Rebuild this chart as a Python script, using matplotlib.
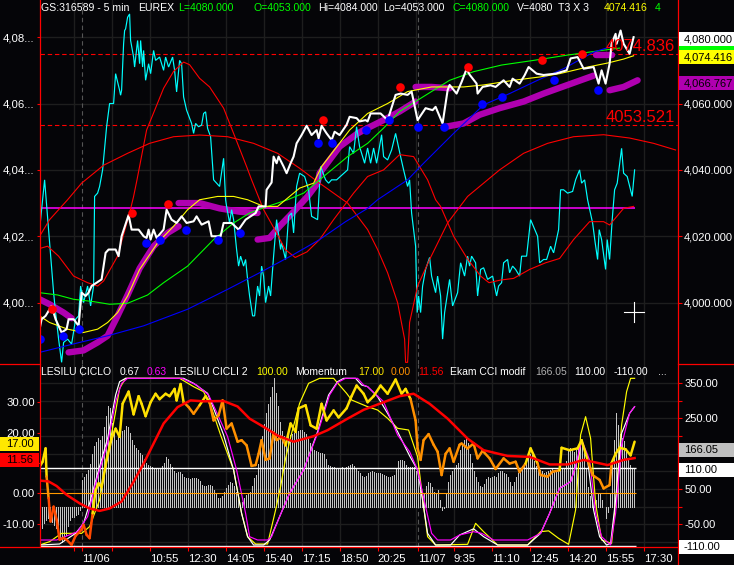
import numpy as np
import matplotlib
matplotlib.use("Agg")
import matplotlib.pyplot as plt
from matplotlib.collections import LineCollection
from matplotlib.lines import Line2D
from matplotlib.patches import Rectangle

W, H = 734, 565
BG = "#050508"
GRID = "#1e1e1e"
PURPLE = "#B000B0"
plt.rcParams["font.family"] = ["Liberation Sans", "DejaVu Sans"]

# ---- main panel (bar index, price) ----
cyan_x = [0,2.5,7,8,9.5,11,12,14,16,18,19.5,20.5,22,24,25.5,27,27.5,29,30,31.5,33.5,35,37,38,40,40.5,41,42,42.5,43,44,45,45.5,47,47.5,49,50,50.5,51.5,52,53,54.5,55.5,57,58,60,62,63,64.5,66.5,67.5,68.5,70,71,72,73.5,76,77,78,79.5,81,82,83,84,85.5,87,90,92,93,93.5,95,96,97,98.5,99.5,100.5,102,103,104,105,106.5,107.5,109,110,111,112,113,114.5,115.5,117,118.5,120.5,121,123,124.5,126,127,128.5,130,132.5,134.5,136,139,140.5,143,144.5,146,148.5,154,155,157,158.5,160,162.5,164,165.5,167,168.5,171,172,174,176,178,180.5,182,184,185,186,188,188.8,189.5,190.5,191.5,193,195,196,198,199,200.5,201.5,202.5,205,206.5,209,210.5,212.5,214,215,216,218,219,220.5,222,224,226.5,228.5,229.5,231,232,234,235,236.5,238,240,241,243.5,245.5,249,250,252,253.5,255.5,257,259.5,260.5,262,264,266.5,268,270,271,272.5,274,276.5,277.8,279,279.8,281,283,283.8,285,286.3,287.5,288.8,291,292,293.8,296.3,297.5]
cyan_y = [4022,4037,4003,3997,3989,3982,3988,3989,3987.5,3995,3996,4005,4000,4005,3999,4005,4032,4033,4035,4040,4053,4060,4060,4069,4064,4062.5,4064,4078,4082,4082.5,4086,4087,4079,4074,4071,4079,4072,4079,4071,4076,4067,4072,4069,4076,4073,4074,4070,4074,4071,4074,4070,4063.5,4073,4072,4062,4058,4054,4051,4054,4053,4053.5,4057,4057.5,4052.5,4050,4037,4035,4043.5,4031,4029,4024,4028,4025,4016,4011,4014,4011,4013,4007,4002,3996,3996,4005,4002,4011,4008,4000,4005,4002,4014,4025,4016,4018,4013,4026,4027,4021,4035,4039,4038,4034,4026,4025,4041,4037,4036,4037,4037,4040,4047,4045,4053,4047,4042,4046.6,4042,4046.6,4042,4050.6,4044,4043,4046,4051,4044,4040,4035,4037,4027,4017,3997,4002,3997,4005,4010,4013.6,4008,4003,4008,4002,3989,3997,4007,3999,4003,4012,4008,4014,4011,4014,4012,4002,4010,4010.5,4007,4008,4002,4005,4006,4012,4013,4009,4011,4010,4008,4014,4014,4025,4020,4012,4013,4013,4017,4015,4022,4034,4034,4033,4033.5,4037,4040,4036,4037,4031,4024,4018,4013,4022,4019,4010,4019,4013,4025,4034,4036,4046.5,4039,4038,4032,4040]

close_x = [0,1,3,6,8,11,13.5,14.5,17,19.5,21,23,24.5,26,28.5,31,33,34.5,38,39.5,41,44.5,46,49.5,52,53.5,54.5,55.5,57,58.5,62,63.5,66,68.5,71,73.5,77,78.5,81,84.5,86,90.5,92,96,99.5,103,108,109.5,113,113.5,116,117,118.5,119.5,122,123.5,125.5,127,128.5,131,133.5,136,138.5,139.5,141,143.5,146,147.5,150,153.5,155,158.5,160,163,164,165.5,170.5,174,178,180.5,184,186,189,193,196.5,198,201.5,204,205,208.5,211,213.5,215,218.5,219,221.5,225.5,228,232,235,236.5,240,242.5,244.5,248.5,252,258,263.5,265.5,269,272,277,279.5,281,283,285,286,288,288.5,290.5,292,295,297]
close_y = [3992,3995,3996,3999,3995,3991,3992,3995,3995,3993,4003,4002,4003,4005,4006,4007,4015,4016,4016,4014,4020,4026.4,4022,4022,4020,4019.5,4022,4019,4022,4019.5,4022,4028,4025,4024,4026,4024,4024.5,4026,4023.5,4024.5,4020,4020,4024,4024,4022,4025,4027,4029,4029,4034,4036.2,4044,4042,4044,4041,4039,4042,4044,4048,4050.5,4053.3,4050.5,4052,4049.5,4053.3,4051,4049,4051.5,4050.5,4053.6,4056,4055.6,4054.6,4055,4054.6,4057,4057,4055,4062.6,4063,4062.6,4063.6,4055,4058.6,4058,4059,4054,4064,4065.6,4063,4066.5,4070.4,4068.7,4066,4063,4065,4065.5,4065,4067,4065,4067.5,4066,4068.5,4071,4069,4068.6,4069,4070,4073.6,4074,4070.5,4071,4066,4070,4066,4072,4078,4081,4078,4082,4078,4075,4080]

yellow_x = [0,5,14,22,29,34,39,44,50,59,67,74,80,89,97,104,112,119,125,130,137,141,155,164,174,184,196,204,212,222,237,250,260,274,284,292,297]
yellow_y = [3996,3994,3992,3991,3992,3994,3997,4002,4010,4018,4023,4028,4031,4032,4032,4031,4029,4029,4032,4034.5,4036,4041,4052,4057,4060,4063.6,4065,4065,4065,4065.6,4067,4068,4069,4071,4072.2,4073.4,4074.4]

green_x = [0,9,17,27,35,44,54,62,74,87,97,105,114,124,132,141,154,164,172,180,189,197,205,217,231,247,264,281,290]
green_y = [4003,4002.3,4001,4000.3,3999.5,3999.8,4002.3,4006,4011,4019,4024,4027,4029,4031,4033,4037.5,4044,4048,4052.6,4057.6,4061,4064,4067,4069.6,4071.6,4073,4074.6,4076,4076.7]

blue_x = [0,20,34,52,74,94,110,127,140,153,164,169,184,192,207,222,235,249,262,277,285]
blue_y = [3985,3988,3990,3993,3998,4004,4009,4014.5,4019,4024.4,4028.4,4031,4037,4042,4051,4059.6,4063,4067,4070.5,4075.5,4077]

arch_x = [0,5,14,21,32,44,55,67,80,94,107,119,130,140,147,154,164,169,174,179,182.5,183,184,185,189,195,204,214,224,230,242,254,267,282,295,307,318]
arch_y = [4020,4025,4031,4036,4041.4,4045,4048,4050,4050.5,4050,4048,4045,4040.5,4036,4033,4030,4022,4016,4009,4000,3989,3982,3982,3994,4005,4013,4024,4032,4037,4040,4045,4048,4050,4050.6,4049.6,4048,4046]

hump_x = [0,4,9.5,17,24,29,32,39,45,47,48.7,53.5,62,67,72,75,80,85,92,97,103.5,106,112,118.5,122.8,127.8,133.7,140,147,157,164,172,180,187,191,194,198,200.5,207,213.8,220.5,224.7,230.5,237,245,253,260,267,275,282,285,292,297]
hump_y = [4016.3,4017,4014,4008,4006,4005,4006.5,4014,4027,4032,4037,4052,4064.6,4069.7,4072.5,4071.7,4067.6,4065,4058.6,4051,4041,4037,4028,4021,4016,4013.6,4015.3,4019,4025,4033,4038,4040,4044.6,4044,4040,4037,4031,4029,4020,4013.3,4008,4006,4006.8,4007.3,4010,4012,4013.3,4019,4024.4,4024.4,4023.4,4028.4,4029]

purple_x = [[0,5,12,16],
            [14.5,22,29,34,39,44,50,57,64,69.5],
            [69.5,80,90,100,109],
            [109,115,120,127,134,139,140,150,159,164,172,180,188],
            [188,196,205],
            [203,212,220,230,242,252,264,277],
            [278,286],
            [285,292,299]]
purple_y = [[4001,3999.5,3997,3995.3],
            [3985,3985.6,3988,3990,3996,4002.3,4010.3,4017,4021,4023],
            [4030,4030,4028.4,4027.4,4027],
            [4019,4019.5,4023,4027.4,4032,4036,4039,4047,4051,4052.6,4055,4057.6,4060.6],
            [4065,4065,4064.6],
            [4053,4054,4056.6,4058.6,4060.6,4063,4065.6,4068.4],
            [4074.7,4074.7],
            [4064,4065,4067]]

peak_x = [6,46,64,141.5,180,214,251,271]
peak_y = [3998,4026.9,4029.7,4055,4065,4071,4073,4075]
trough_x = [0,11.5,19.5,53,60,73,89,100,139,146,163,174.5,189,202,221,231,257,279]
trough_y = [3989,3990,3992,4018,4019,4022,4019,4021,4048,4048,4052,4055,4053,4053,4060,4062,4067,4064]

level_hi, level_lo, level_mid = 4074.836, 4053.521, 4028.4
price_ticks = [4000,4020,4040,4060,4080]
price_left_labels = ["4,00...", "4,02...", "4,04...", "4,06...", "4,08..."]

# ---- lower panel ----
cci = [-71,-60,-45,-38,-32,-36,-42,-52,-60,-68,
       -85,-100,-95,-80,-55,-38,-30,-28,-24,-20,
       -10,76,85,92,105,120,150,172,182,194,
       190,200,225,256,284,280,237,215,190,200,
       208,213,218,227,225,208,190,175,165,160,
       152,147,135,123,118,115,113,110,110,108,
       109,115,125,140,135,122,112,100,95,97,
       98,92,85,80,80,78,80,80,80,78,
       72,62,60,60,61,62,58,48,38,26,
       24,30,42,52,62,70,68,58,42,22,
       5,12,25,33,38,43,60,80,90,120,
       165,200,235,265,290,310,340,365,322,285,
       240,215,200,198,200,203,206,208,210,213,
       216,216,212,205,195,180,165,160,158,155,
       152,151,150,135,118,114,112,112,110,110,
       110,112,110,112,115,118,121,115,108,100,
       95,88,85,88,95,98,100,98,96,95,
       94,92,90,86,85,85,86,90,110,130,
       133,133,128,118,112,112,113,112,100,78,
       48,30,40,60,71,68,55,42,40,47,
       20,-9,-5,40,70,90,102,110,118,125,
       160,175,190,194,180,150,125,100,85,70,
       58,57,65,78,85,82,85,88,85,95,
       100,100,95,92,85,70,60,70,85,95,
       105,115,125,130,145,150,145,130,115,108,
       105,100,95,98,102,105,108,105,105,108,
       108,106,110,130,160,165,160,155,160,170,
       175,180,165,110,55,30,12,10,20,38,
       38,20,0,-33,-15,40,130,190,265,230,
       205,195,185,160,135,118,110,110]

osc_w_x = [0,10,18,22,25,29,34,38,40,43,72,77,84,87,92,97,101,104,107,112,115,120,125,132,139,144.5,149,152,158,161,164,169,174,179,185,189,192,194,198,205.5,210,217,222,229,244,250.5,255,260,265.5,269,271,274,277,280,283.5,285.5,288,291,295,297.5]
osc_w_y = [0,0.6,7,13,25,43,64,90,98,100,100,97,91,82,66,45,19,5,0,0,3,17,31,45,68,90,98,100,100,96,95,89,79,68,53.5,45,23,7,0,0,6,9.7,5,0,0,7,19,34,38,51,63,51,21,5,0,1,27,67,79,83]
osc_m_x = [0,8.5,19,24,28,34,38,41,44,71,78.5,84.5,88,94,98.5,103,105,109,114,116,120,125,132,139,145,149,153,159,162,164,172,179,185,189,193,196,199,205.5,210,217,221,227,244,250.5,255,260,265.5,268,271,275,278,281,285.5,288,291,295,297.5]
osc_m_y = [3,3,8,17,37,61,86,97,100,100,96,90,81,65,45,19,5,3,3,5,17,31,45,67,90,97.5,100,100,96,95,86,66,56,45,23,7,3,3,6,8,7,3,3,7,19,34,38,47,63,51,19,5,0,19,60,79,83]
osc_y_x = [0,5,11,21,25,30,34,38,40,43,70,77,82,86,90.5,97,101,104,108,114,118,120.5,123,126,130,134.5,140,147,153.5,156,164,169,174,179,184.5,189,192,194,198,214,218,222,229,244,250.5,254.5,259.5,264.5,268,270.5,273,275.5,278,281,286,288,291,293.5,295.5,297.5]
osc_y_y = [0,2,7,7,11,27,53.5,80,94,100,100,95,92,82,66,45,19,5,0.6,0.6,21,35,52,67,85,97,100,100,91,87,83,81,76,70,69,53,23,5,0,0.4,13,8,0,0,8,8.5,4,0.4,21,66,77,64,25,3,1,25,72,92,100,100]

mom_x = [0,1.5,3,3.5,4.5,5.5,7,8.5,10,12,13.5,16,18,21,22,23.5,25,26.5,28,29.5,31,33.5,36,38,40,41.5,44.5,47,49.5,51,53,55.5,58,60,63,65,67.5,68.5,70.5,72,74.5,77,80,83,85,87,89.5,91.5,93.5,96,99,101,103.5,106,108,109.5,111,113,115,117,118.5,121,123,125.5,128,129.5,133,135.5,138.5,141,143.5,147,149.5,153.5,156,158.5,162,164,167,170.5,174,178,181,183,185.5,188,189,190.5,192,194.5,197,199,201,203,205,207,210,211,214,217,219,221.5,225,228,232,235,238,240,243,245.5,249,250.5,254,256.5,260,261,265,269,271,274,276.5,280,282,285,286,288,290,293,295.5,297.5]
mom_y = [8.7,10.4,14.8,5.5,-1.6,-9.3,-4.4,-8.7,-15.3,-14.7,-15.3,-17,-14,-12,-10.4,-13.7,-14.8,-6.6,1,3.3,2,11,18,21.3,18.6,29.5,33.5,26,32,29.5,25.4,30,32.8,31,32.8,32,34.4,30.6,36,30,28.4,26.2,29,32,30,24,25.7,30.6,21.3,23,17,17.5,15.8,9,9.3,13,17.5,11,11.5,20,17.5,18.6,15.8,23,20.2,28,29,22.4,21.3,29.5,24,27.3,25,28,32,35.5,32.8,30,32,35.5,32.8,37.5,32.8,34.4,31,24,14.8,11,17.5,19.5,16,13.7,6,13,14.8,10.4,16,16.4,14.8,16.4,11.5,14,11.5,8,11.5,9.8,10.4,7,9.8,14.8,9.8,6,5.5,7.1,7.6,15,14.2,14.8,17.5,11,6,4.4,1.6,2.7,10,13,15,14.5,12.5,17]

sig_x = [0,4.5,8.5,13.5,20,25,30,35,41,47,52,57,62,69,75.5,82,92,99,105,112,119,127,137,144,154,162,164,172,180,187,195,204,214,222,234,245,255,264,272,284,292,297.5]
sig_y = [4.2,3.9,2.4,-0.5,-3.3,-5,-5.8,-5,-2.7,3.8,9.8,16.4,23,28.4,30.6,30.3,30.4,28.6,24.6,21.9,19,17,18.8,20.8,24.6,27.5,28,30,32,32.8,29.5,24.6,18,14.2,12.3,12,9.5,9.5,11,9.3,11,11.6]

cci_hi, cci_lo = 110, -110
cci_ticks = [350,300,250,200,150,100,50,0,-50,-100]
cci_labels = {350:"350.00",250:"250.00",50:"50.00",-50:"-50.00"}
mom_ticks = [30,20,10,0,-10]
mom_labels = {30:"30.00",20:"20.00",0:"0.00",-10:"-10.00"}

grid_bars = [17,36,55,74,93,112,131,150,169,188,207,226,245,264,283,302]
minor_bars = [17,36]
day_bars = [21,189]
time_bars = [21,55,74,93,112,131,150,169,189,207,226,245,264,283,302]
time_labels = ["11/06","10:55","12:30","14:05","15:40","17:15","18:50","20:25","11/07","9:35","11:10","12:45","14:20","15:55","17:30"]

X0, X1, MID, BOT = 39.6, 678.0, 364.0, 547.0
XMAX = (X1 - X0) / 2

def fx(p): return p / W
def fy(p): return 1 - p / H

fig = plt.figure(figsize=(W / 100, H / 100), dpi=100, facecolor=BG)

def make_axes(top, bot, ylim, **kw):
    a = fig.add_axes([fx(X0), fy(bot), fx(X1 - X0), (bot - top) / H], **kw)
    a.set_xlim(0, XMAX)
    a.set_ylim(*ylim)
    for s in a.spines.values():
        s.set_visible(False)
    a.set_xticks([])
    a.set_yticks([])
    return a

# ---------- main price panel ----------
ax = make_axes(0, MID, (3981.5, 4091.2), facecolor=BG)
for b in grid_bars:
    ax.axvline(b, color=GRID, lw=1.0, zorder=0)
for b in day_bars:
    ax.axvline(b, color="#555555", lw=0.8, ls=(0, (4, 3)), zorder=0.5)
for p in price_ticks:
    ax.axhline(p, color=GRID, lw=1.0, zorder=0)

ax.hlines([level_hi, level_lo], 0, XMAX, color="#FF0000", lw=0.8, ls=(0, (4, 2.5)), zorder=1)
ax.hlines(level_mid, 0, 297.5, color="#FF00FF", lw=1.1, zorder=1)

for xs, ys in zip(purple_x, purple_y):
    ax.plot(xs, ys, color=PURPLE, lw=4.6, solid_capstyle="round", solid_joinstyle="round", zorder=2)
ax.plot(cyan_x, cyan_y, color="#00FFFF", lw=0.85, zorder=3, solid_joinstyle="miter")
ax.plot(arch_x, arch_y, color="#FF0000", lw=0.8, zorder=4)
ax.plot(hump_x, hump_y, color="#FF0000", lw=0.8, zorder=4)
ax.plot(green_x, green_y, color="#00FF00", lw=0.8, zorder=4)
ax.plot(blue_x, blue_y, color="#0000FF", lw=0.8, zorder=4)
ax.plot(yellow_x, yellow_y, color="#FFFF00", lw=0.8, zorder=4)
ax.plot(close_x, close_y, color="#FFFFFF", lw=1.5, zorder=5)
ax.plot(peak_x, peak_y, ls="", marker="o", ms=6.2, mfc="#FF0000", mec="none", zorder=6)
ax.plot(trough_x, trough_y, ls="", marker="o", ms=6.2, mfc="#0000FF", mec="none", zorder=6)

ax.text(317.5, level_hi + 1.0, f"{level_hi:.3f}", color="#FF0000", fontsize=12, ha="right", va="baseline", zorder=7)
ax.text(317.5, level_lo + 0.8, f"{level_lo:.3f}", color="#FF0000", fontsize=12, ha="right", va="baseline", zorder=7)

ax.set_yticks(price_ticks)
ax.set_yticklabels(price_left_labels, color="white", fontsize=8.2)
ax.tick_params(axis="y", color="#FF0000", length=2.5, width=0.8, pad=1)

axr = ax.twinx()
axr.set_ylim(ax.get_ylim())
for s in axr.spines.values():
    s.set_visible(False)
axr.set_yticks(price_ticks)
axr.set_yticklabels([f"{p:,}.000" for p in price_ticks], color="white", fontsize=8.0)
axr.tick_params(axis="y", color="#FF0000", length=3, width=0.8, pad=1.5)
axr.patch.set_visible(False)

# ---------- lower panel ----------
ax_cci = make_axes(MID, BOT, (-114, 403.8), facecolor=BG)
for b in grid_bars:
    ax_cci.axvline(b, color=GRID, lw=1.0, zorder=0)
for b in day_bars:
    ax_cci.axvline(b, color="#555555", lw=0.8, ls=(0, (4, 3)), zorder=0.5)
for p in cci_ticks:
    ax_cci.axhline(p, color=GRID, lw=1.0, zorder=0)
ax_cci.vlines(np.arange(len(cci)), 0, cci, color="#C4C4C4", lw=0.72, antialiased=False, zorder=1)
ax_cci.hlines([cci_hi, cci_lo], 0, 298, color="white", lw=1.0, zorder=2)
ax_cci.yaxis.tick_right()
ax_cci.set_yticks(cci_ticks)
ax_cci.set_yticklabels([cci_labels.get(t, "") for t in cci_ticks], color="white", fontsize=8.0)
ax_cci.tick_params(axis="y", color="#FF0000", length=3, width=0.8, pad=1.5)
ax_cci.set_xticks(time_bars)
ax_cci.set_xticklabels(time_labels, color="white", fontsize=8.2, ha="left")
ax_cci.set_xticks(minor_bars, minor=True)
ax_cci.tick_params(axis="x", which="both", color="#FF0000", length=3, width=0.8, pad=2)

ax_osc = make_axes(MID, BOT, (-1.2, 108.6))
ax_osc.patch.set_visible(False)
ax_osc.plot(osc_y_x, osc_y_y, color="#FFFF00", lw=0.85)
ax_osc.plot(osc_w_x, osc_w_y, color="#FFFFFF", lw=0.85)
ax_osc.plot(osc_m_x, osc_m_y, color="#FF00FF", lw=0.85)

ax_mom = make_axes(MID, BOT, (-17.7, 42.6))
ax_mom.patch.set_visible(False)
ax_mom.hlines(0, 0, 298, color="#FF9900", lw=0.8, zorder=1)
mx, my = np.array(mom_x, float), np.array(mom_y, float)
pts = np.column_stack([mx, my])
segs = np.stack([pts[:-1], pts[1:]], axis=1)
mid_x, mid_y = (mx[:-1] + mx[1:]) / 2, (my[:-1] + my[1:]) / 2
sig_mid = np.interp(mid_x, sig_x, sig_y)
cols = ["#FFE000" if v >= s else ("#FF4800" if v < 0 else "#FF9000") for v, s in zip(mid_y, sig_mid)]
ax_mom.add_collection(LineCollection(segs, colors=cols, linewidths=1.8, capstyle="round", zorder=2))
ax_mom.plot(sig_x, sig_y, color="#FF0000", lw=1.8, zorder=3)
ax_mom.set_yticks(mom_ticks)
ax_mom.set_yticklabels([mom_labels.get(t, "") for t in mom_ticks], color="white", fontsize=8.2)
ax_mom.tick_params(axis="y", color="#FF0000", length=2.5, width=0.8, pad=1)

# ---------- frame ----------
RED = "#FF0000"
def hv(x0, y0, x1, y1, c=RED, lw=0.9, z=5):
    fig.add_artist(Line2D([fx(x0), fx(x1)], [fy(y0), fy(y1)], color=c, lw=lw, zorder=z))
hv(X0, 0, X0, BOT)
hv(X1, 0, X1, H)
hv(0, MID, X0, MID)
hv(X1, MID, W, MID)
hv(0, BOT, X1, BOT)
# cursor cross-hair
hv(624.3, 312.3, 644.3, 312.3, "#FFFFFF", 0.8)
hv(634.3, 302.3, 634.3, 322.3, "#FFFFFF", 0.8)

# ---------- value boxes ----------
def box(x0, y0, x1, y1, face, label=None, tc="black", ha="center"):
    fig.add_artist(Rectangle((fx(x0), fy(y1)), fx(x1 - x0), (y1 - y0) / H, transform=fig.transFigure,
                             facecolor=face, edgecolor="none", zorder=8))
    if label:
        fig.text(fx(x0 + 5 if ha == "left" else (x0 + x1) / 2), fy((y0 + y1) / 2 + 0.3), label, color=tc, fontsize=8.0,
                 ha=ha, va="center", zorder=9)

box(679, 32, W, 46, "#FFFFFF", "4,080.000", ha="left")
box(679, 46, W, 50, "#00FF00")
box(679, 50, W, 64, "#FFFF00", "4,074.416", ha="left")
box(679, 76, W, 90, PURPLE, "4,066.767", ha="left")
box(679, 443, W, 457, "#C0C0C0", "166.05", ha="left")
box(679, 463, W, 477, "#FFFFFF", "110.00", ha="left")
box(679, 540, W, 554, "#FFFFFF", "-110.00", ha="left")
box(0, 437, 39, 451, "#FFE800", "17.00")
box(0, 453, 39, 467, "#FF0000", "11.56")

# ---------- header strips ----------
def label(x, y, s, c="white", size=7.6):
    fig.text(fx(x), fy(y), s, color=c, fontsize=size, ha="left", va="center", zorder=9)

top_items = [(41, "GS:316589 - 5 min", "white"), (138, "EUREX", "white"), (178, "L=4080.000", "#00FF00"),
             (253, "O=4053.000", "#00FF00"), (318, "Hi=4084.000", "white"), (383, "Lo=4053.000", "white"),
             (453, "C=4080.000", "#00FF00"), (517, "V=4080", "white"), (558, "T3 X 3", "white"),
             (604, "4074.416", "#FFFF00"), (655, "4", "#00FF00")]
low_items = [(41, "LESILU CICLO", "white"), (120, "0.67", "white"), (147, "0.63", "#FF00FF"),
             (174, "LESILU CICLI 2", "white"), (256, "100.00", "#FFFF00"), (295, "Momentum", "white"),
             (358, "17.00", "#FFE800"), (391, "0.00", "#FF9000"), (418, "11.56", "#FF0000"),
             (450, "Ekam CCI modif", "white"), (535, "166.05", "#B0B0B0"), (574, "110.00", "white"),
             (614, "-110.00", "white"), (658, "...", "white")]
for x, s, c in top_items:
    label(x, 8, s, c)
for x, s, c in low_items:
    label(x, 372, s, c, 7.5)

fig.savefig("out.png", dpi=100, facecolor=BG)
